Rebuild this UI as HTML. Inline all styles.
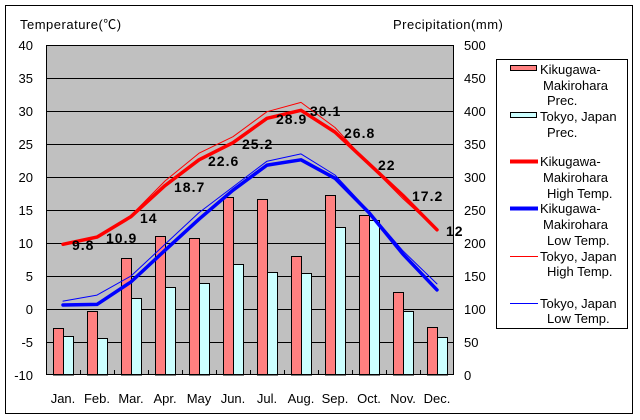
<!DOCTYPE html>
<html><head><meta charset="utf-8"><style>
html,body{margin:0;padding:0;background:#fff;}
svg{display:block;}
text{font-family:"Liberation Sans","Noto Sans CJK JP",sans-serif;fill:#000;}
.ax{font-size:13px;}
.lg{font-size:13px;}
.dl{font-size:14px;font-weight:bold;letter-spacing:1px;}
</style></head><body>
<svg width="640" height="420" viewBox="0 0 640 420" xmlns="http://www.w3.org/2000/svg">
<rect x="0" y="0" width="640" height="420" fill="#fff"/>
<rect x="5.5" y="5.5" width="627" height="408" fill="#fff" stroke="#000" stroke-width="1"/>

<text class="ax" x="20" y="29" style="letter-spacing:0.5px">Temperature(℃)</text>
<text class="ax" x="393" y="29" style="letter-spacing:0.5px">Precipitation(mm)</text>

<!-- plot area -->
<rect x="46" y="45" width="408" height="330" fill="#C0C0C0"/>
<g stroke="#000" stroke-width="1">
<line x1="46" y1="78.5" x2="454" y2="78.5"/>
<line x1="46" y1="111.5" x2="454" y2="111.5"/>
<line x1="46" y1="144.5" x2="454" y2="144.5"/>
<line x1="46" y1="177.5" x2="454" y2="177.5"/>
<line x1="46" y1="210.5" x2="454" y2="210.5"/>
<line x1="46" y1="243.5" x2="454" y2="243.5"/>
<line x1="46" y1="276.5" x2="454" y2="276.5"/>
<line x1="46" y1="309.5" x2="454" y2="309.5"/>
<line x1="46" y1="342.5" x2="454" y2="342.5"/>
</g>

<!-- bars -->
<g stroke="#000" stroke-width="1">
<g fill="#FF8080">
<rect x="53.5" y="328.5" width="10" height="46.5"/>
<rect x="87.5" y="311.5" width="10" height="63.5"/>
<rect x="121.5" y="258.5" width="10" height="116.5"/>
<rect x="155.5" y="236.5" width="10" height="138.5"/>
<rect x="189.5" y="238.5" width="10" height="136.5"/>
<rect x="223.5" y="197.5" width="10" height="177.5"/>
<rect x="257.5" y="199.5" width="10" height="175.5"/>
<rect x="291.5" y="256.5" width="10" height="118.5"/>
<rect x="325.5" y="195.5" width="10" height="179.5"/>
<rect x="359.5" y="215.5" width="10" height="159.5"/>
<rect x="393.5" y="292.5" width="10" height="82.5"/>
<rect x="427.5" y="327.5" width="10" height="47.5"/>
</g>
<g fill="#CCFFFF">
<rect x="63.5" y="336.5" width="10" height="38.5"/>
<rect x="97.5" y="338.5" width="10" height="36.5"/>
<rect x="131.5" y="298.5" width="10" height="76.5"/>
<rect x="165.5" y="287.5" width="10" height="87.5"/>
<rect x="199.5" y="283.5" width="10" height="91.5"/>
<rect x="233.5" y="264.5" width="10" height="110.5"/>
<rect x="267.5" y="272.5" width="10" height="102.5"/>
<rect x="301.5" y="273.5" width="10" height="101.5"/>
<rect x="335.5" y="227.5" width="10" height="147.5"/>
<rect x="369.5" y="220.5" width="10" height="154.5"/>
<rect x="403.5" y="311.5" width="10" height="63.5"/>
<rect x="437.5" y="337.5" width="10" height="37.5"/>
</g>
</g>

<!-- ticks -->
<g stroke="#000" stroke-width="1">
<line x1="80.5" y1="370" x2="80.5" y2="375"/>
<line x1="114.5" y1="370" x2="114.5" y2="375"/>
<line x1="148.5" y1="370" x2="148.5" y2="375"/>
<line x1="182.5" y1="370" x2="182.5" y2="375"/>
<line x1="216.5" y1="370" x2="216.5" y2="375"/>
<line x1="250.5" y1="370" x2="250.5" y2="375"/>
<line x1="284.5" y1="370" x2="284.5" y2="375"/>
<line x1="318.5" y1="370" x2="318.5" y2="375"/>
<line x1="352.5" y1="370" x2="352.5" y2="375"/>
<line x1="386.5" y1="370" x2="386.5" y2="375"/>
<line x1="420.5" y1="370" x2="420.5" y2="375"/>
</g>

<!-- lines -->
<g fill="none" stroke-linejoin="round" stroke-linecap="round">
<polyline stroke="#FF0000" stroke-width="3.5" points="63,244.3 97,237.1 131,216.6 165,185.6 199,159.8 233,142.7 267,118.3 301,110.3 335,132.1 369,163.8 403,195.5 437,229.8"/>
<polyline stroke="#0000FF" stroke-width="3.5" points="63,305 97,304.4 131,281.9 165,250.3 199,219.2 233,190.2 267,165.1 301,159.8 335,178.3 369,212.6 403,254.2 437,289.9"/>
<polyline stroke="#FF0000" stroke-width="1" points="63,244.3 97,237.1 131,215.3 165,181 199,153.2 233,136.7 267,111.7 301,102.4 335,127.5 369,164.5 403,198.8 437,229.8"/>
<polyline stroke="#0000FF" stroke-width="1" points="63,301.1 97,295.1 131,276 165,244.3 199,212.6 233,186.9 267,161.2 301,153.9 335,175 369,211.3 403,250.9 437,283.9"/>
</g>

<!-- data labels -->
<g class="dl">
<text x="72" y="250">9.8</text>
<text x="106" y="243">10.9</text>
<text x="140" y="223">14</text>
<text x="174" y="192">18.7</text>
<text x="208" y="166">22.6</text>
<text x="242" y="149">25.2</text>
<text x="276" y="124">28.9</text>
<text x="310" y="116">30.1</text>
<text x="344" y="138">26.8</text>
<text x="378" y="170">22</text>
<text x="412" y="201">17.2</text>
<text x="446" y="236">12</text>
</g>

<rect x="46.5" y="45.5" width="407" height="329" fill="none" stroke="#000" stroke-width="1"/>

<!-- left axis -->
<g class="ax" text-anchor="end">
<text x="33" y="50">40</text>
<text x="33" y="83">35</text>
<text x="33" y="116">30</text>
<text x="33" y="149">25</text>
<text x="33" y="182">20</text>
<text x="33" y="215">15</text>
<text x="33" y="248">10</text>
<text x="33" y="281">5</text>
<text x="33" y="314">0</text>
<text x="33" y="347">-5</text>
<text x="33" y="380">-10</text>
</g>
<!-- right axis -->
<g class="ax">
<text x="464" y="50">500</text>
<text x="464" y="83">450</text>
<text x="464" y="116">400</text>
<text x="464" y="149">350</text>
<text x="464" y="182">300</text>
<text x="464" y="215">250</text>
<text x="464" y="248">200</text>
<text x="464" y="281">150</text>
<text x="464" y="314">100</text>
<text x="464" y="347">50</text>
<text x="464" y="380">0</text>
</g>
<!-- months -->
<g class="ax" text-anchor="middle">
<text x="63" y="403">Jan.</text>
<text x="97" y="403">Feb.</text>
<text x="131" y="403">Mar.</text>
<text x="165" y="403">Apr.</text>
<text x="199" y="403">May</text>
<text x="233" y="403">Jun.</text>
<text x="267" y="403">Jul.</text>
<text x="301" y="403">Aug.</text>
<text x="335" y="403">Sep.</text>
<text x="369" y="403">Oct.</text>
<text x="403" y="403">Nov.</text>
<text x="437" y="403">Dec.</text>
</g>

<!-- legend -->
<rect x="496.5" y="59.5" width="131" height="269" fill="#fff" stroke="#000" stroke-width="1"/>
<rect x="510.5" y="65.5" width="26" height="5" fill="#FF8080" stroke="#000" stroke-width="1"/>
<rect x="510.5" y="112.5" width="26" height="5" fill="#CCFFFF" stroke="#000" stroke-width="1"/>
<line x1="510" y1="161.5" x2="538" y2="161.5" stroke="#FF0000" stroke-width="4"/>
<line x1="510" y1="208.5" x2="538" y2="208.5" stroke="#0000FF" stroke-width="4"/>
<line x1="510" y1="256.5" x2="538" y2="256.5" stroke="#FF0000" stroke-width="1"/>
<line x1="510" y1="303.5" x2="538" y2="303.5" stroke="#0000FF" stroke-width="1"/>
<g class="lg">
<text x="540" y="74">Kikugawa-</text>
<text x="543" y="90">Makirohara</text>
<text x="547" y="105">Prec.</text>
<text x="540" y="121">Tokyo, Japan</text>
<text x="547" y="137">Prec.</text>
<text x="540" y="166">Kikugawa-</text>
<text x="543" y="182">Makirohara</text>
<text x="547" y="198">High Temp.</text>
<text x="540" y="213">Kikugawa-</text>
<text x="543" y="229">Makirohara</text>
<text x="547" y="245">Low Temp.</text>
<text x="540" y="261">Tokyo, Japan</text>
<text x="547" y="276">High Temp.</text>
<text x="540" y="308">Tokyo, Japan</text>
<text x="547" y="323">Low Temp.</text>
</g>
</svg>
</body></html>
